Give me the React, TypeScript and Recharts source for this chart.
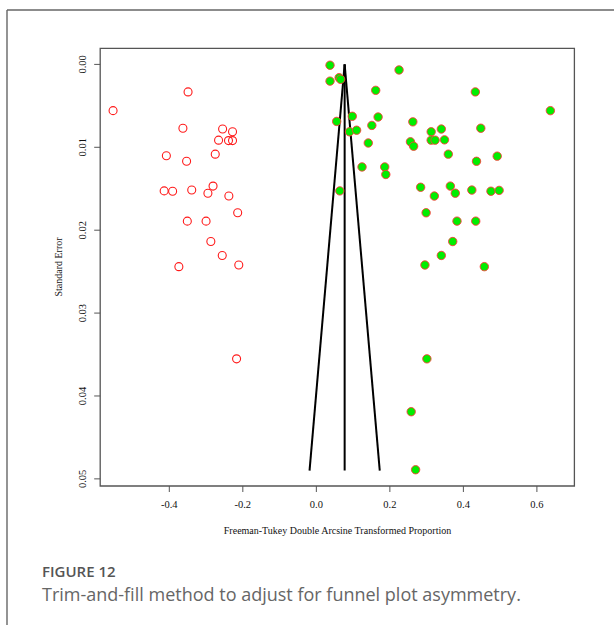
import React from "react";
import {
  ScatterChart,
  Scatter,
  XAxis,
  YAxis,
  ReferenceLine,
  ReferenceArea,
} from "recharts";

// Axis ticks
const effectTicks = [-0.4, -0.2, 0, 0.2, 0.4, 0.6];
const seTicks = [0, 0.01, 0.02, 0.03, 0.04, 0.05];

// Observed studies: transformed proportion and standard error
const observedEffect = [
  0.0372, 0.0372, 0.062, 0.066, 0.225, 0.1615, 0.4325, 0.6366, 0.0553, 0.0978,
  0.168, 0.2625, 0.151, 0.0903, 0.1095, 0.3124, 0.34, 0.4474, 0.256, 0.2646,
  0.3124, 0.323, 0.3486, 0.1413, 0.359, 0.4357, 0.492, 0.1243, 0.186, 0.189,
  0.0638, 0.2837, 0.321, 0.3645, 0.378, 0.423, 0.475, 0.4973, 0.2986, 0.3826,
  0.4336, 0.371, 0.34, 0.2954, 0.457, 0.3007, 0.258, 0.27,
];
const observedSE = [
  0.0001, 0.00202, 0.0016, 0.0018, 0.00067, 0.00313, 0.00332, 0.00558, 0.00688, 0.00626,
  0.00635, 0.00693, 0.00736, 0.00813, 0.00794, 0.00813, 0.0078, 0.0077, 0.00934, 0.00987,
  0.00914, 0.00914, 0.0091, 0.00948, 0.01083, 0.01169, 0.01107, 0.01237, 0.01237, 0.01328,
  0.01526, 0.01482, 0.01588, 0.01468, 0.01554, 0.01516, 0.0153, 0.0152, 0.0179, 0.01891,
  0.01891, 0.02137, 0.02305, 0.0242, 0.0244, 0.03552, 0.0419, 0.0489,
];

// Studies imputed by trim-and-fill
const filledEffect = [
  -0.553, -0.349, -0.363, -0.255, -0.228, -0.266, -0.239, -0.228, -0.275, -0.408,
  -0.353, -0.414, -0.391, -0.339, -0.281, -0.295, -0.238, -0.214, -0.351, -0.3,
  -0.287, -0.256, -0.374, -0.211, -0.217,
];
const filledSE = [
  0.00558, 0.00332, 0.0077, 0.0078, 0.00813, 0.00914, 0.00919, 0.00919, 0.01083, 0.01102,
  0.01169, 0.01526, 0.0153, 0.01516, 0.01468, 0.01554, 0.01588, 0.0179, 0.01891, 0.01891,
  0.02137, 0.02305, 0.0244, 0.0242, 0.03552,
];

// Funnel: pooled estimate and its pseudo 95% limits at the largest SE
const pooledEstimate = 0.077;
const funnelBaseSE = 0.049;
const funnelLower = -0.0185;
const funnelUpper = 0.1725;

const X_DOMAIN: [number, number] = [-0.588, 0.702];
const SE_DOMAIN: [number, number] = [-0.00193, 0.05086];

const observedData = observedEffect.map((x, i) => ({ x, se: observedSE[i] }));
const filledData = filledEffect.map((x, i) => ({ x, se: filledSE[i] }));

const SERIF = "'Liberation Serif', 'Times New Roman', serif";
const SANS = "'Open Sans', 'Noto Sans', sans-serif";
const AXIS_GREY = "#555";

const OpenCircle = (p: any) => (
  <circle cx={p.cx} cy={p.cy} r={4} fill="none" stroke="#ff1a1a" strokeWidth={1.1} />
);

const FilledCircle = (p: any) => (
  <circle cx={p.cx} cy={p.cy} r={4.2} fill="#00ee00" stroke="#ff3a3a" strokeWidth={0.9} />
);

const SeTick = (p: any) => {
  const bx = p.x - 6;
  return (
    <text
      x={bx}
      y={p.y}
      transform={`rotate(-90 ${bx} ${p.y})`}
      textAnchor="middle"
      fontSize={10.5}
      fontFamily={SERIF}
      fill="#111"
    >
      {Number(p.payload.value).toFixed(2)}
    </text>
  );
};

export default function App() {
  return (
    <div style={{ position: "absolute", left: 0, top: 0, width: 614, height: 625, background: "#fff" }}>
      <ScatterChart
        width={614}
        height={625}
        margin={{ top: 48.4, right: 39.6, bottom: 109, left: 40.2 }}
      >
        <XAxis
          type="number"
          dataKey="x"
          domain={X_DOMAIN}
          ticks={effectTicks}
          allowDataOverflow
          height={30}
          axisLine={false}
          tickSize={6}
          tickMargin={9}
          tickLine={{ stroke: AXIS_GREY }}
          tickFormatter={(v: number) => v.toFixed(1)}
          tick={{ fontSize: 10.5, fontFamily: SERIF, fill: "#111" }}
        />
        <YAxis
          type="number"
          dataKey="se"
          domain={SE_DOMAIN}
          ticks={seTicks}
          allowDataOverflow
          reversed
          width={60}
          axisLine={false}
          tickSize={6}
          tickMargin={2}
          tickLine={{ stroke: AXIS_GREY }}
          tick={<SeTick />}
        />
        <ReferenceArea
          x1={X_DOMAIN[0]}
          x2={X_DOMAIN[1]}
          y1={SE_DOMAIN[0]}
          y2={SE_DOMAIN[1]}
          fill="none"
          fillOpacity={0}
          stroke={AXIS_GREY}
          strokeWidth={1.3}
          ifOverflow="visible"
        />
        <Scatter data={filledData} shape={OpenCircle} isAnimationActive={false} />
        <Scatter data={observedData} shape={FilledCircle} isAnimationActive={false} />
        <ReferenceLine
          segment={[
            { x: funnelLower, y: funnelBaseSE },
            { x: pooledEstimate, y: 0 },
          ]}
          stroke="#000"
          strokeWidth={2}
          ifOverflow="visible"
        />
        <ReferenceLine
          segment={[
            { x: funnelUpper, y: funnelBaseSE },
            { x: pooledEstimate, y: 0 },
          ]}
          stroke="#000"
          strokeWidth={2}
          ifOverflow="visible"
        />
        <ReferenceLine
          segment={[
            { x: pooledEstimate, y: funnelBaseSE },
            { x: pooledEstimate, y: 0 },
          ]}
          stroke="#000"
          strokeWidth={2}
          ifOverflow="visible"
        />
      </ScatterChart>

      <svg
        width={614}
        height={625}
        style={{ position: "absolute", left: 0, top: 0, pointerEvents: "none" }}
      >
        <line x1={7} y1={10} x2={614} y2={10} stroke="#666" strokeWidth={1.4} />
        <line x1={7} y1={10} x2={7} y2={625} stroke="#666" strokeWidth={1.4} />
        <text
          x={61.5}
          y={267}
          transform="rotate(-90 61.5 267)"
          textAnchor="middle"
          fontSize={10}
          fontFamily={SERIF}
          fill="#111"
        >
          Standard Error
        </text>
        <text x={337.5} y={533.5} textAnchor="middle" fontSize={10} fontFamily={SERIF} fill="#111">
          Freeman-Tukey Double Arcsine Transformed Proportion
        </text>
        <text x={42} y={576.5} fontSize={15} fontWeight={600} fontFamily={SANS} fill="#555">
          FIGURE 12
        </text>
        <text x={42} y={600.5} fontSize={18} fontFamily={SANS} fill="#666">
          Trim-and-fill method to adjust for funnel plot asymmetry.
        </text>
      </svg>
    </div>
  );
}
